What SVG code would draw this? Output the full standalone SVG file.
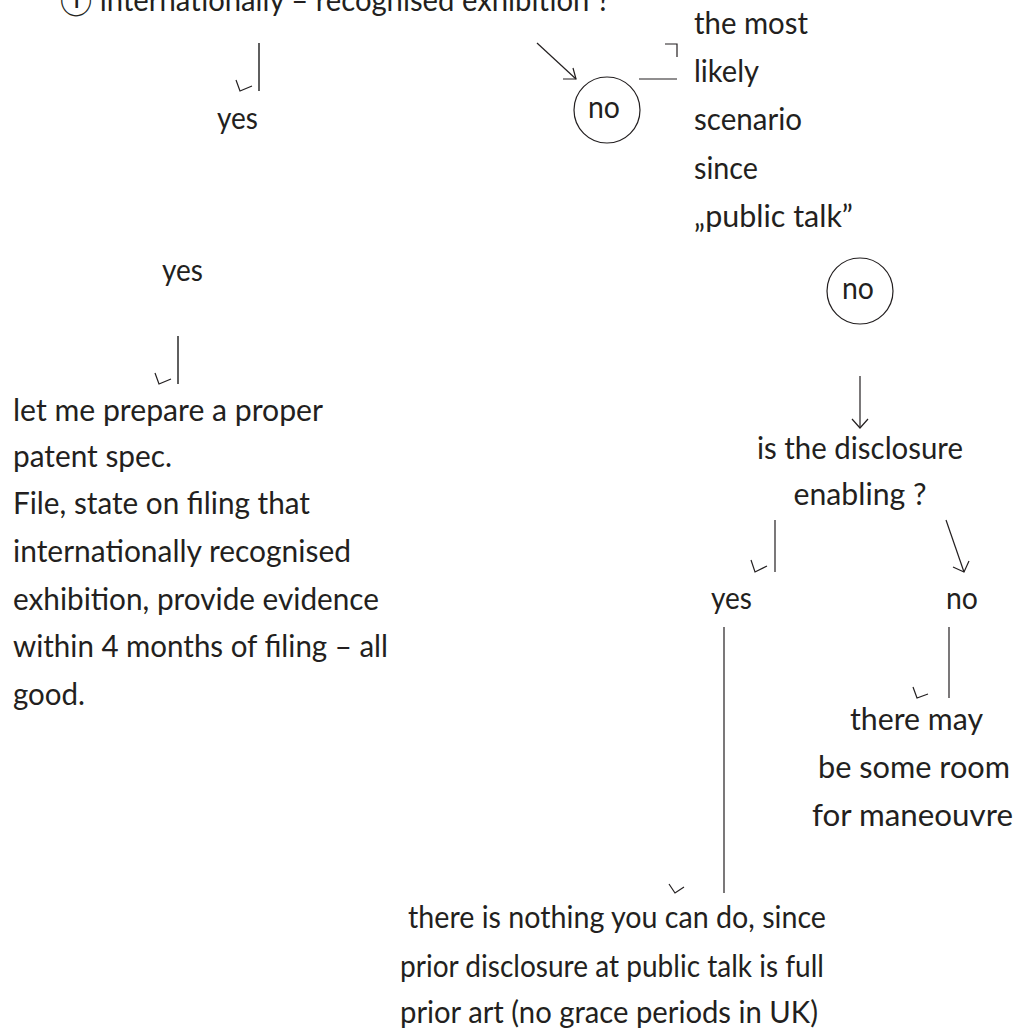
<svg xmlns="http://www.w3.org/2000/svg" width="1015" height="1028" viewBox="0 0 1015 1028">
<style>
.t{font-family:Lato,"Liberation Sans","DejaVu Sans",sans-serif;font-size:31px;fill:#231f20}
.m{text-anchor:middle}
.c{fill:none;stroke:#231f20;stroke-width:1.2}
.g{fill:none;stroke:#5f5f5f;stroke-width:2}
.h{fill:none;stroke:#231f20;stroke-width:1.2}
.o{fill:none;stroke:#231f20;stroke-width:1.2}
</style>
<rect width="1015" height="1028" fill="#ffffff"/>
<g id="connectors">
<line class="g" x1="259" y1="43" x2="259" y2="91"/>
<polyline class="h" points="236,80 240,91 252,86"/>
<line class="c" x1="537" y1="43" x2="576" y2="79"/>
<polyline class="h" points="563,79 576,79 573,68"/>
<line class="c" x1="639" y1="79" x2="677" y2="79"/>
<polyline class="h" points="665,44 677,44 677,57"/>
<line class="g" x1="178" y1="336" x2="178" y2="384"/>
<polyline class="h" points="155,373 159,384 171,379"/>
<line class="c" x1="860" y1="376" x2="860" y2="428"/>
<polyline class="h" points="852,419 860,428 868,419"/>
<line class="c" x1="775" y1="520" x2="775" y2="572"/>
<polyline class="h" points="751,560 755,572 767,566"/>
<line class="c" x1="946" y1="520" x2="964" y2="572"/>
<polyline class="h" points="953,567 964,572 969,561"/>
<line class="c" x1="949" y1="627" x2="949" y2="698"/>
<polyline class="h" points="913,687 917,698 928,694"/>
<line class="c" x1="724" y1="627" x2="724" y2="893"/>
<polyline class="h" points="669,884 675,893 684,887"/>
</g>
<g id="q1"><text class="t" x="60" y="11" textLength="550" lengthAdjust="spacingAndGlyphs">① internationally – recognised exhibition ?</text></g>
<g id="yes1"><text class="t" x="217" y="129" textLength="41" lengthAdjust="spacingAndGlyphs">yes</text></g>
<g id="yes2"><text class="t" x="162" y="281" textLength="41" lengthAdjust="spacingAndGlyphs">yes</text></g>
<g id="no1"><circle class="o" cx="607" cy="110" r="33"/><text class="t" x="588" y="118" textLength="32" lengthAdjust="spacingAndGlyphs">no</text></g>
<g id="likely">
<text class="t" x="694" y="34" textLength="114" lengthAdjust="spacingAndGlyphs">the most</text>
<text class="t" x="694" y="82" textLength="65" lengthAdjust="spacingAndGlyphs">likely</text>
<text class="t" x="694" y="130" textLength="108" lengthAdjust="spacingAndGlyphs">scenario</text>
<text class="t" x="694" y="179" textLength="64" lengthAdjust="spacingAndGlyphs">since</text>
<text class="t" x="694" y="227" textLength="159" lengthAdjust="spacingAndGlyphs">„public talk”</text>
</g>
<g id="no2"><circle class="o" cx="860" cy="291" r="33"/><text class="t" x="842" y="299" textLength="32" lengthAdjust="spacingAndGlyphs">no</text></g>
<g id="enabling">
<text class="t m" x="860" y="459" textLength="206" lengthAdjust="spacingAndGlyphs">is the disclosure</text>
<text class="t m" x="860" y="505" textLength="133" lengthAdjust="spacingAndGlyphs">enabling ?</text>
</g>
<g id="yes3"><text class="t" x="711" y="609" textLength="41" lengthAdjust="spacingAndGlyphs">yes</text></g>
<g id="no3"><text class="t" x="946" y="609" textLength="32" lengthAdjust="spacingAndGlyphs">no</text></g>
<g id="room">
<text class="t" x="850" y="730" textLength="133" lengthAdjust="spacingAndGlyphs">there may</text>
<text class="t" x="818" y="778" textLength="192" lengthAdjust="spacingAndGlyphs">be some room</text>
<text class="t" x="812" y="826" textLength="201" lengthAdjust="spacingAndGlyphs">for maneouvre</text>
</g>
<g id="nothing">
<text class="t" x="408" y="928" textLength="418" lengthAdjust="spacingAndGlyphs">there is nothing you can do, since</text>
<text class="t" x="400" y="977" textLength="424" lengthAdjust="spacingAndGlyphs">prior disclosure at public talk is full</text>
<text class="t" x="400" y="1023" textLength="418" lengthAdjust="spacingAndGlyphs">prior art (no grace periods in UK)</text>
</g>
<g id="prepare">
<text class="t" x="13" y="421" textLength="310" lengthAdjust="spacingAndGlyphs">let me prepare a proper</text>
<text class="t" x="13" y="467" textLength="159" lengthAdjust="spacingAndGlyphs">patent spec.</text>
<text class="t" x="13" y="514" textLength="297" lengthAdjust="spacingAndGlyphs">File, state on filing that</text>
<text class="t" x="13" y="562" textLength="338" lengthAdjust="spacingAndGlyphs">internationally recognised</text>
<text class="t" x="13" y="610" textLength="366" lengthAdjust="spacingAndGlyphs">exhibition, provide evidence</text>
<text class="t" x="13" y="657" textLength="375" lengthAdjust="spacingAndGlyphs">within 4 months of filing – all</text>
<text class="t" x="13" y="705" textLength="72" lengthAdjust="spacingAndGlyphs">good.</text>
</g>
</svg>
